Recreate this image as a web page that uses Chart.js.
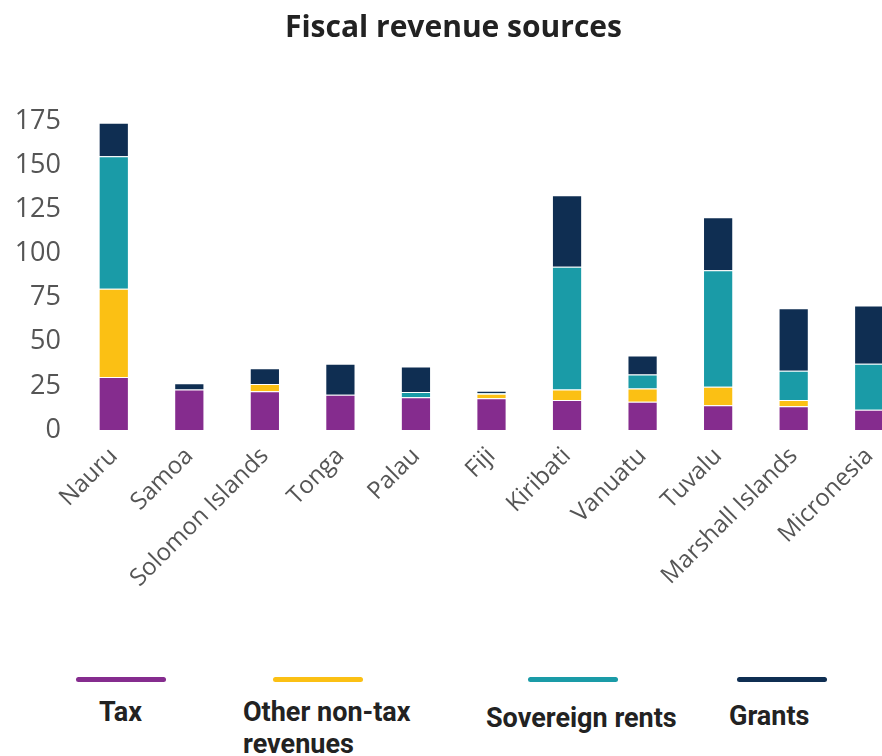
<!DOCTYPE html>
<html>
<head>
<meta charset="utf-8">
<title>Fiscal revenue sources</title>
<script src="https://cdn.jsdelivr.net/npm/chart.js@4.4.1/dist/chart.umd.min.js"></script>
<style>
    body { margin: 0; background: #fff; width: 882px; height: 756px; overflow: hidden; position: relative; }
    #wrap { position: absolute; left: 0; top: 0; width: 910px; height: 640px; }
    .leg-line { position: absolute; height: 5px; width: 90px; border-radius: 3px; }
    .leg-text { position: absolute; font-family: Roboto, sans-serif; font-weight: 700; font-size: 27px;
                color: #222; line-height: 32px; }
</style>
</head>
<body>
<div id="wrap"><canvas id="myChart" width="910" height="640"></canvas></div>
<div id="legend"></div>
<script>
// categories (countries)
const countries = ['Nauru', 'Samoa', 'Solomon Islands', 'Tonga', 'Palau', 'Fiji',
    'Kiribati', 'Vanuatu', 'Tuvalu', 'Marshall Islands', 'Micronesia'];

// series values
const tax       = [30, 23, 22, 20, 18.5, 18, 17, 16, 14, 13.5, 11.5];
const otherRev  = [50, 0, 4, 0, 0, 2.5, 6, 7.5, 10.5, 3.5, 0];
const sovereign = [75, 0, 0, 0, 3, 0.4, 69.5, 8, 66, 16.5, 26];
const grants    = [19, 3.5, 9, 17.5, 14.5, 1.3, 40.5, 10.7, 30, 35.5, 33];

// y-axis tick labels
const yTicks = [0, 25, 50, 75, 100, 125, 150, 175];

const colors = {
    tax: '#852c8e',
    other: '#fbc014',
    sovereign: '#1a9ba7',
    grants: '#0f2e52'
};

function makeSet(label, data, color){
    return {
        label: label,
        data: data,
        backgroundColor: color,
        borderColor: 'rgba(255,255,255,0.4)',
        borderWidth: 1,
        barPercentage: 0.4,
        categoryPercentage: 1
    };
}

const datasets = [
    makeSet('Tax', tax, colors.tax),
    makeSet('Other non-tax revenues', otherRev, colors.other),
    makeSet('Sovereign rents', sovereign, colors.sovereign),
    makeSet('Grants', grants, colors.grants)
];

const ctx = document.getElementById('myChart');
const myChart = new Chart(ctx, {
    type: 'bar',
    data: { labels: countries, datasets: datasets },
    options: {
        responsive: false,
        animation: false,
        devicePixelRatio: 1,
        layout: { padding: { left: 0, right: 3, bottom: 0 } },
        scales: {
            x: {
                stacked: true,
                grid: { display: false },
                border: { display: false },
                afterFit: scale => {
                    // let the first rotated label hang over the y-axis instead of pushing the plot
                    scale.paddingLeft = 0;
                    scale.paddingRight = 0;
                    scale.height = 210;
                },
                ticks: {
                    color: '#555',
                    maxRotation: 45,
                    minRotation: 45,
                    padding: 4,
                    font: { family: 'Open Sans', size: 24 }
                }
            },
            y: {
                stacked: true,
                min: 0,
                max: 175,
                grid: { display: false, drawTicks: false },
                border: { display: false },
                afterBuildTicks: axis => { axis.ticks = yTicks.map(v => ({ value: v })); },
                afterFit: axis => { axis.width = 76; },
                ticks: {
                    color: '#555',
                    padding: 15,
                    font: { family: 'Open Sans', size: 27 }
                }
            }
        },
        plugins: {
            legend: { display: false },
            tooltip: { enabled: false },
            title: {
                display: true,
                text: 'Fiscal revenue sources',
                color: '#222',
                font: { family: 'Open Sans', size: 30, weight: 'bold' },
                padding: { top: 10, bottom: 75 }
            }
        }
    }
});

// legend: coloured line above each label, laid out in four columns
const legendSpots = [
    { line: 76,  text: 99,  top: 696, width: 80 },
    { line: 273, text: 243, top: 696, width: 200 },
    { line: 528, text: 486, top: 702, width: 230 },
    { line: 737, text: 729, top: 700, width: 130 }
];
const legendBox = document.getElementById('legend');
myChart.data.datasets.forEach((ds, i) => {
    const spot = legendSpots[i];
    const line = document.createElement('div');
    line.className = 'leg-line';
    line.style.left = spot.line + 'px';
    line.style.top = '677px';
    line.style.background = ds.backgroundColor;
    legendBox.appendChild(line);

    const txt = document.createElement('div');
    txt.className = 'leg-text';
    txt.style.left = spot.text + 'px';
    txt.style.top = spot.top + 'px';
    txt.style.width = spot.width + 'px';
    txt.textContent = ds.label;
    legendBox.appendChild(txt);
});
</script>
</body>
</html>
